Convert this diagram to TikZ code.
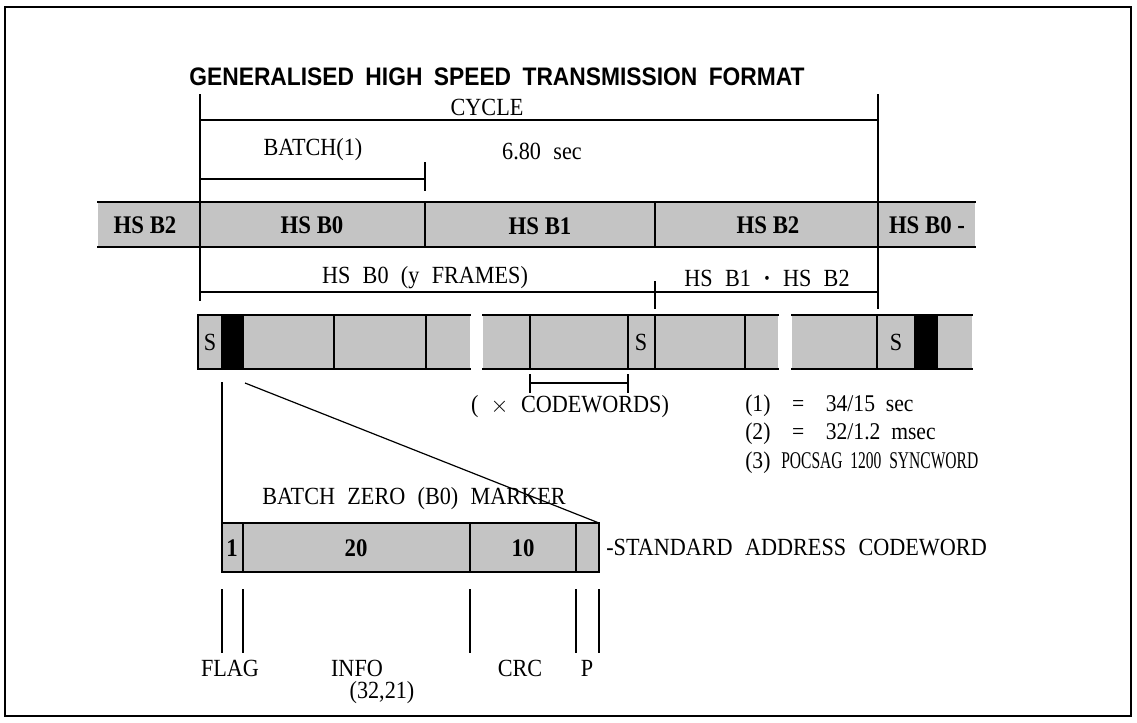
\documentclass[tikz,border=0pt]{standalone}
\usepackage{fontspec}
\setmainfont{Liberation Serif}[FakeStretch=0.9]
\newfontfamily\titlefont{Liberation Sans}[FakeStretch=0.9]
\definecolor{stipple}{gray}{0.77}
\newcommand\wsA{\spaceskip 0.5em plus 0.1em\relax}
\newcommand\wsB{\spaceskip 0.45em\relax}
\newcommand\wsC{\spaceskip 0.45em\relax}
\tikzset{
  ln/.style={line width=1.0pt, line cap=rect},
  thin/.style={line width=0.9pt},
  shade/.style={fill=stipple},
  lbl/.style={inner sep=0pt, font=\fontsize{18.5}{20}\selectfont\wsA},
  blbl/.style={inner sep=0pt, font=\fontsize{19}{20}\selectfont\bfseries},
  ttl/.style={inner sep=0pt, font=\titlefont\fontsize{19}{22}\selectfont\bfseries\wsB},
  note/.style={inner sep=0pt, anchor=west, font=\fontsize{18}{20}\selectfont\wsC},
}
\begin{document}
\begin{tikzpicture}[x=0.75pt,y=-0.75pt]
\useasboundingbox (0,0) rectangle (1137,722);
% outer frame
\draw[thin] (5,7) rectangle (1131,716);
% title
\node[ttl] (title) at (497,77) {GENERALISED HIGH SPEED TRANSMISSION FORMAT};

% ---------- cycle / batch brackets
\coordinate (cycTL) at (200,95);  \coordinate (cycTR) at (878,95);
\coordinate (cycL) at (200,120);  \coordinate (cycR) at (878,120);
\coordinate (bandTL) at (200,202); \coordinate (bandTR) at (878,202);
\draw[ln] (cycTL) -- (bandTL);
\draw[ln] (cycTR) -- (bandTR);
\draw[ln] (cycL) -- (cycR);
\node[lbl] (cycle) at (487,107) {CYCLE};
\node[lbl] (batch) at (313,150) {BATCH(1)};
\node[lbl] (time) at (542,151) {6.80 sec};
\coordinate (batL) at (200,179); \coordinate (batR) at (425,179);
\coordinate (batRt) at (425,163); \coordinate (batRb) at (425,190);
\draw[ln] (batL) -- (batR);
\draw[ln] (batRt) -- (batRb);

% ---------- batch band
\fill[shade] (98,202) rectangle (975,247);
\draw[ln] (98,202) -- (975,202);
\draw[ln] (98,247) -- (975,247);
\foreach \x in {200,425,655,878} \draw[ln] (\x,202) -- (\x,247);
\node[blbl] (b2a) at (145,225) {HS B2};
\node[blbl] (b0a) at (312,225) {HS B0};
\node[blbl] (b1a) at (540,226) {HS B1};
\node[blbl] (b2b) at (768,225) {HS B2};
\node[blbl] (b0b) at (927,225) {HS B0 -};

% ---------- frame brackets
\coordinate (fL0) at (200,247); \coordinate (fL1) at (200,300);
\coordinate (fR0) at (878,247); \coordinate (fR1) at (878,308);
\coordinate (fM0) at (655,282); \coordinate (fM1) at (655,308);
\coordinate (fyL) at (200,292); \coordinate (fyM) at (655,292); \coordinate (fyR) at (878,292);
\draw[ln] (fL0) -- (fL1);
\draw[ln] (fR0) -- (fR1);
\draw[ln] (fM0) -- (fM1);
\draw[ln] (fyL) -- (fyM) -- (fyR);
\node[lbl] (yfr) at (425,278) {HS B0 (y FRAMES)};
\node[lbl] (b12) at (767,278) {HS B1 {\bfseries ·} HS B2};

% ---------- frames band (three broken pieces)
% piece 1
\fill[shade] (198,315) rectangle (470,369);
\fill[black] (222,315) rectangle (243,369);
\draw[ln] (470,315) -- (198,315) -- (198,369) -- (470,369);
\foreach \x in {222,243,334,426} \draw[ln] (\x,315) -- (\x,369);
% piece 2
\fill[shade] (483,315) rectangle (778,369);
\draw[ln] (483,315) -- (778,315);
\draw[ln] (483,369) -- (778,369);
\foreach \x in {530,628,655,745} \draw[ln] (\x,315) -- (\x,369);
% piece 3
\fill[shade] (792,315) rectangle (972,369);
\fill[black] (915,315) rectangle (937,369);
\draw[ln] (792,315) -- (972,315);
\draw[ln] (792,369) -- (972,369);
\foreach \x in {877,915,937} \draw[ln] (\x,315) -- (\x,369);
\node[lbl] (s1) at (210,342) {S};
\node[lbl] (s2) at (641,342) {S};
\node[lbl] (s3) at (896,342) {S};

% codewords bracket
\coordinate (cwL) at (530,383); \coordinate (cwR) at (628,383);
\draw[ln] (cwL) -- (cwR);
\draw[ln] (530,375) -- (530,392);
\draw[ln] (628,375) -- (628,392);
\node[lbl] (cwtxt) at (570,407) {( $\times$ CODEWORDS)};

% notes
\node[note] (n1) at (745,406) {(1)\ \ =\ \ 34/15 sec};
\node[note] (n2) at (745,434) {(2)\ \ =\ \ 32/1.2 msec};
\node[note] (n3) at (745,463) {(3)\ \scalebox{0.72}[1]{POCSAG 1200 SYNCWORD}};

% ---------- expansion lines
\coordinate (exA) at (222,383); \coordinate (exB) at (245,383);
\coordinate (cwTL) at (222,523); \coordinate (cwTR) at (599,523);
\draw[ln] (exA) -- (cwTL);
\draw[thin] (exB) -- (cwTR);
\node[lbl] (marker) at (414,499) {BATCH ZERO (B0) MARKER};

% ---------- codeword box
\fill[shade] (222,523) rectangle (599,572);
\draw[ln] (222,523) rectangle (599,572);
\foreach \x in {243,470,576} \draw[ln] (\x,523) -- (\x,572);
\node[blbl] (f1) at (232,548) {1};
\node[blbl] (f20) at (356,548) {20};
\node[blbl] (f10) at (523,548) {10};
\node[lbl, anchor=west] (std) at (606,548) {-STANDARD ADDRESS CODEWORD};

% ---------- field markers
\foreach \x in {222,243,470,576,599} \draw[ln] (\x,590) -- (\x,652);
\node[lbl] (flag) at (230,668) {FLAG};
\node[lbl] (info) at (357,668) {INFO};
\node[lbl] (infon) at (382,693) {(32,21)};
\node[lbl] (crc) at (520,668) {CRC};
\node[lbl] (par) at (587,668) {P};
\end{tikzpicture}
\end{document}
